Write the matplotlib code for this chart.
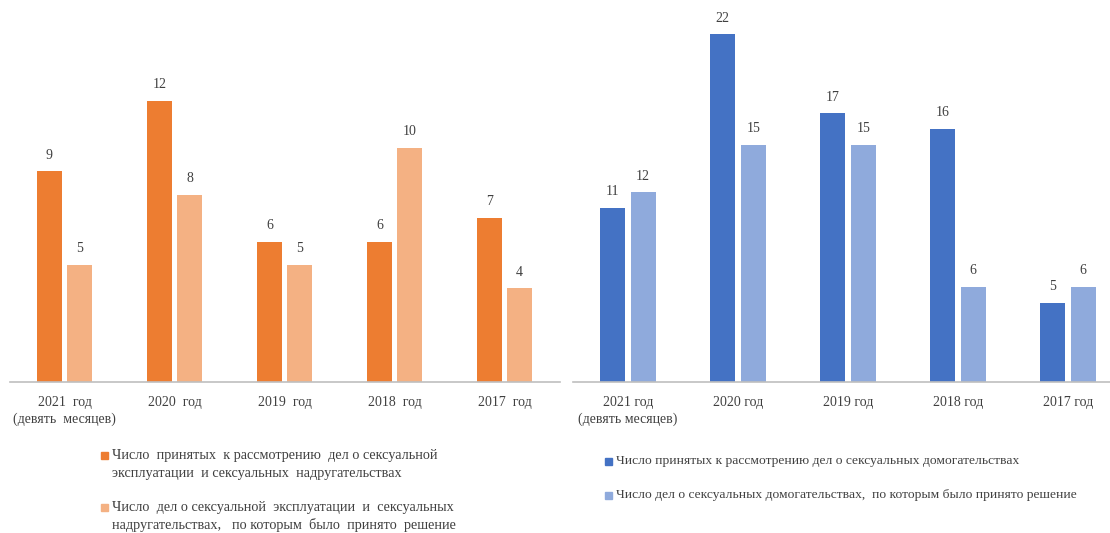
import matplotlib.pyplot as plt
from matplotlib.patches import Rectangle
import numpy as np

plt.rcParams["font.family"] = ["Liberation Serif", "DejaVu Serif"]

years_left = ["2021  год\n(девять  месяцев)", "2020  год", "2019  год", "2018  год", "2017  год"]
years_right = ["2021 год\n(девять месяцев)", "2020 год", "2019 год", "2018 год", "2017 год"]

exploit_accepted = [9, 12, 6, 6, 7]
exploit_decided = [5, 8, 5, 10, 4]
harass_accepted = [11, 22, 17, 16, 5]
harass_decided = [12, 15, 15, 6, 6]

label_exploit_accepted = ["Число  принятых  к рассмотрению  дел о сексуальной",
                          "эксплуатации  и сексуальных  надругательствах"]
label_exploit_decided = ["Число  дел о сексуальной  эксплуатации  и  сексуальных",
                         "надругательствах,   по которым  было  принято  решение"]
label_harass_accepted = ["Число принятых к рассмотрению дел о сексуальных домогательствах"]
label_harass_decided = ["Число дел о сексуальных домогательствах,  по которым было принято решение"]

W, H = 1110, 533
fig = plt.figure(figsize=(W / 100, H / 100), dpi=100)

base = 382
ax1 = fig.add_axes([9.5 / W, (H - base) / H, 550 / W, base / H])
ax2 = fig.add_axes([573 / W, (H - base) / H, (W - 573) / W, base / H])


def draw(ax, a, b, labels, c1, c2, ymax, xmax):
    x = np.arange(len(a))
    w = 0.225
    off = 0.138
    b1 = ax.bar(x - off, a, w, color=c1)
    b2 = ax.bar(x + off, b, w, color=c2)
    for bars, vals in ((b1, a), (b2, b)):
        for r, v in zip(bars, vals):
            ax.annotate(str(v), (r.get_x() + r.get_width() / 2, v), xytext=(0, 7),
                        textcoords="offset points", ha="center", va="bottom",
                        fontsize=10, color="#404040")
    ax.set_xlim(-0.5, xmax)
    ax.set_ylim(0, ymax)
    ax.set_yticks([])
    ax.set_xticks(x)
    ax.set_xticklabels(labels, fontsize=10, color="#404040", linespacing=1.35)
    ax.tick_params(axis="x", length=0, pad=10)
    for s in ("top", "right", "left"):
        ax.spines[s].set_visible(False)
    ax.spines["bottom"].set_color("#bfbfbf")
    ax.spines["bottom"].set_linewidth(1.2)


draw(ax1, exploit_accepted, exploit_decided, years_left, "#ed7d31", "#f4b183", base / 23.4, 4.5)
draw(ax2, harass_accepted, harass_decided, years_right, "#4472c4", "#8faadc", base / 15.8,
     (W - 573) / 110 - 0.5)


def legend_entry(x, y, color, lines, size, step=18):
    # small square marker next to the first line, text lines below it
    fig.patches.append(Rectangle(((x) / W, 1 - (y + 3.5) / H), 7 / W, 7 / H,
                                 transform=fig.transFigure, color=color))
    for i, line in enumerate(lines):
        fig.text((x + 11) / W, 1 - (y + i * step) / H, line, fontsize=size,
                 color="#404040", va="center", ha="left")


legend_entry(101, 455, "#ed7d31", label_exploit_accepted, 10.3)
legend_entry(101, 507, "#f4b183", label_exploit_decided, 10.3)
legend_entry(605, 461, "#4472c4", label_harass_accepted, 9.7)
legend_entry(605, 495, "#8faadc", label_harass_decided, 9.7)

fig.savefig("out.png", dpi=100)
